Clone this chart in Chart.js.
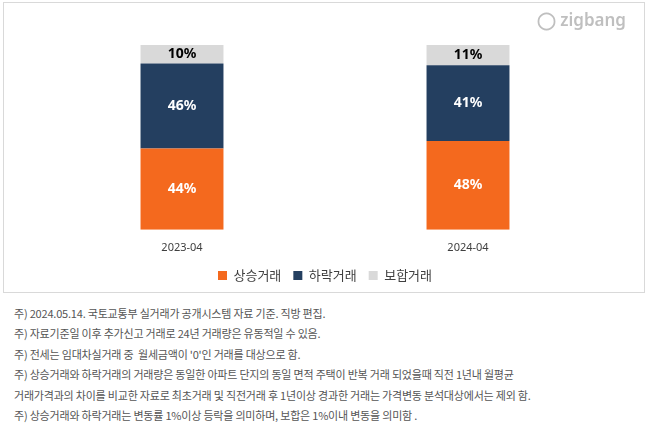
<!DOCTYPE html>
<html><head><meta charset="utf-8">
<script src="https://cdn.jsdelivr.net/npm/chart.js@4"></script>
<style>
body{margin:0;background:#fff;font-family:"Noto Sans CJK KR",sans-serif;}
#box{position:absolute;left:3px;top:2px;width:640px;height:289px;border:1px solid #d9d9d9;}
#logo{position:absolute;right:18px;top:5px;color:#bfbfbf;font:600 17px "Noto Sans",sans-serif;}
#notes{position:absolute;left:14px;top:303px;font-size:11px;color:#555;line-height:20.4px;letter-spacing:-0.2px;}
</style></head><body>
<div id="box"><canvas id="c"></canvas><div id="logo">&#9711; zigbang</div></div>
<div id="notes">
주) 2024.05.14. 국토교통부 실거래가 공개시스템 자료 기준. 직방 편집.<br>
주) 자료기준일 이후 추가신고 거래로 24년 거래량은 유동적일 수 있음.<br>
주) 전세는 임대차실거래 중&nbsp; 월세금액이 '0'인 거래를 대상으로 함.<br>
주) 상승거래와 하락거래의 거래량은 동일한 아파트 단지의 동일 면적 주택이 반복 거래 되었을때 직전 1년내 월평균<br>
거래가격과의 차이를 비교한 자료로 최초거래 및 직전거래 후 1년이상 경과한 거래는 가격변동 분석대상에서는 제외 함.<br>
주) 상승거래와 하락거래는 변동률 1%이상 등락을 의미하며, 보합은 1%이내 변동을 의미함 .
</div>
<script>
const categories = ['2023-04', '2024-04'];
const risingShare = [44, 48];
const fallingShare = [46, 41];
const flatShare = [10, 11];

const canvas = document.getElementById('c');
canvas.style.width = '640px'; canvas.style.height = '289px';

const labelPlugin = {
    id: 'segLabels',
    afterDatasetsDraw(chart) {
        const ctx = chart.ctx;
        ctx.save();
        ctx.font = 'bold 14px "Noto Sans", sans-serif';
        ctx.textAlign = 'center';
        ctx.textBaseline = 'middle';
        chart.data.datasets.forEach((ds, i) => {
            chart.getDatasetMeta(i).data.forEach((bar, j) => {
                const mid = (bar.y + bar.base) / 2;
                ctx.fillStyle = i === 2 ? '#000' : '#fff';
                ctx.fillText(ds.data[j] + '%', bar.x, mid);
            });
        });
        ctx.restore();
    }
};

new Chart(canvas.getContext('2d'), {
    type: 'bar',
    data: {
        labels: categories,
        datasets: [
            { label: '상승거래', data: risingShare, backgroundColor: '#F4691E' },
            { label: '하락거래', data: fallingShare, backgroundColor: '#243F60' },
            { label: '보합거래', data: flatShare, backgroundColor: '#D9D9D9' }
        ]
    },
    options: {
        responsive: false,
        animation: false,
        layout: { padding: { left: 35, right: 33, top: 42, bottom: 0 } },
        datasets: { bar: { barPercentage: 0.29, categoryPercentage: 1 } },
        plugins: {
            legend: {
                position: 'bottom',
                labels: { boxWidth: 9, boxHeight: 9, padding: 12, color: '#404040',
                          font: { size: 13, family: '"Noto Sans CJK KR", sans-serif' } }
            },
            tooltip: { enabled: false }
        },
        scales: {
            x: { stacked: true, grid: { display: false }, border: { display: false },
                 ticks: { color: '#404040', padding: 3, font: { size: 11, family: '"Noto Sans", sans-serif' } } },
            y: { stacked: true, display: false, min: 0, max: 100 }
        }
    },
    plugins: [labelPlugin]
});
</script>
</body></html>
